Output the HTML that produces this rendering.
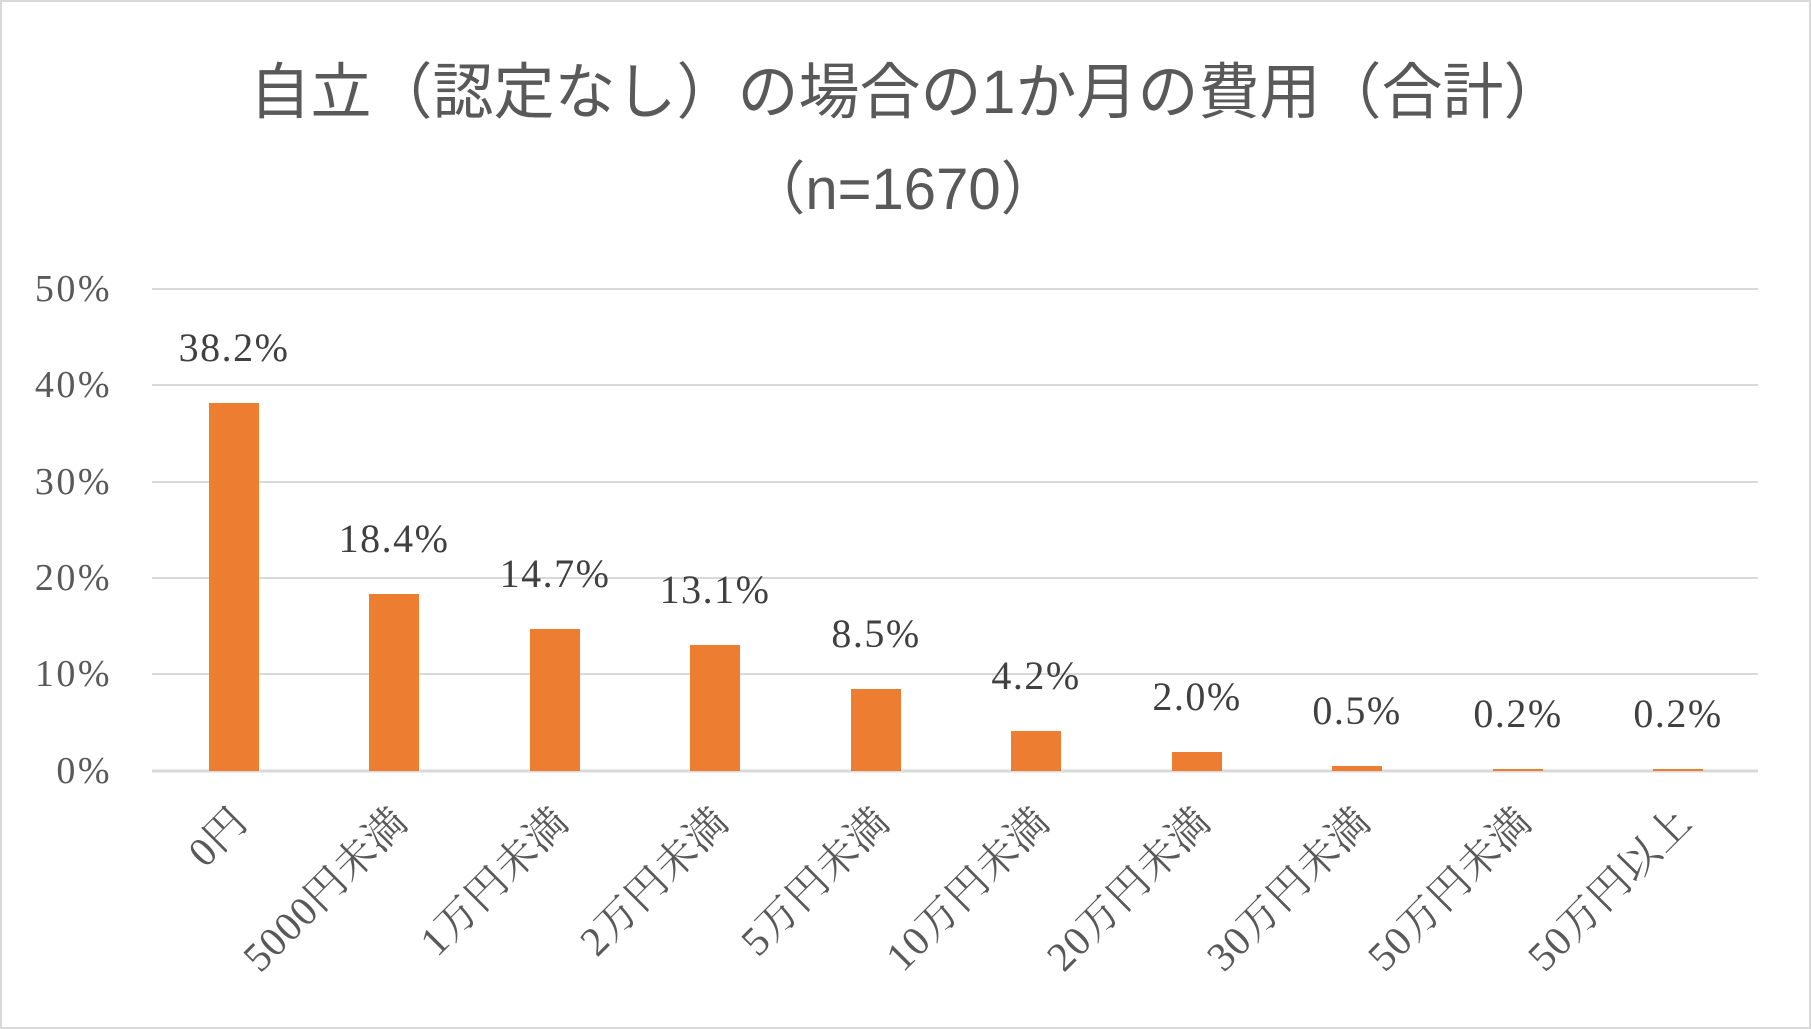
<!DOCTYPE html>
<html><head><meta charset="utf-8"><style>
html,body{margin:0;padding:0;background:#fff}
svg{display:block}
</style></head><body>
<svg width="1811" height="1029" xmlns="http://www.w3.org/2000/svg">
<rect x="1" y="1" width="1809" height="1027" fill="#fff" stroke="#d9d9d9" stroke-width="2"/>
<text x="907" y="113" text-anchor="middle" font-family="'Liberation Sans','Noto Sans CJK JP',sans-serif" font-size="61" fill="#595959">自立（認定なし）の場合の1か月の費用（合計）</text>
<text x="903" y="209" text-anchor="middle" font-family="'Liberation Sans','Noto Sans CJK JP',sans-serif" font-size="58" fill="#595959">（n=1670）</text>
<g stroke="#d9d9d9" stroke-width="2">
<line x1="152" y1="289" x2="1758" y2="289"/>
<line x1="152" y1="385" x2="1758" y2="385"/>
<line x1="152" y1="482" x2="1758" y2="482"/>
<line x1="152" y1="578" x2="1758" y2="578"/>
<line x1="152" y1="674" x2="1758" y2="674"/>
<line x1="152" y1="771" x2="1758" y2="771" stroke-width="3"/>
</g>
<g font-family="'Liberation Serif','Noto Serif CJK SC',serif" font-size="38" letter-spacing="2.5" fill="#595959" text-anchor="end">
<text x="112" y="301">50%</text>
<text x="112" y="397">40%</text>
<text x="112" y="494">30%</text>
<text x="112" y="590">20%</text>
<text x="112" y="686">10%</text>
<text x="112" y="783">0%</text>
</g>
<g fill="#ed7d31">
<rect x="209" y="403" width="50" height="368"/>
<rect x="369" y="594" width="50" height="177"/>
<rect x="530" y="629" width="50" height="142"/>
<rect x="690" y="645" width="50" height="126"/>
<rect x="851" y="689" width="50" height="82"/>
<rect x="1011" y="731" width="50" height="40"/>
<rect x="1172" y="752" width="50" height="19"/>
<rect x="1332" y="766" width="50" height="5"/>
<rect x="1493" y="769" width="50" height="2"/>
<rect x="1653" y="769" width="50" height="2"/>
</g>
<g font-family="'Liberation Serif','Noto Serif CJK SC',serif" font-size="40" letter-spacing="1.5" fill="#404040" text-anchor="middle">
<text x="234" y="361">38.2%</text>
<text x="394" y="552">18.4%</text>
<text x="555" y="587">14.7%</text>
<text x="715" y="603">13.1%</text>
<text x="876" y="647">8.5%</text>
<text x="1036" y="689">4.2%</text>
<text x="1197" y="710">2.0%</text>
<text x="1357" y="724">0.5%</text>
<text x="1518" y="727">0.2%</text>
<text x="1678" y="727">0.2%</text>
</g>
<g font-family="'Liberation Serif','Noto Serif CJK JP',serif" font-size="41" letter-spacing="1" fill="#595959" text-anchor="end">
<text transform="translate(250,824) rotate(-45)">0円</text>
<text transform="translate(410,824) rotate(-45)">5000円未満</text>
<text transform="translate(571,824) rotate(-45)">1万円未満</text>
<text transform="translate(731,824) rotate(-45)">2万円未満</text>
<text transform="translate(892,824) rotate(-45)">5万円未満</text>
<text transform="translate(1052,824) rotate(-45)">10万円未満</text>
<text transform="translate(1213,824) rotate(-45)">20万円未満</text>
<text transform="translate(1373,824) rotate(-45)">30万円未満</text>
<text transform="translate(1534,824) rotate(-45)">50万円未満</text>
<text transform="translate(1694,824) rotate(-45)">50万円以上</text>
</g>
</svg>
</body></html>
